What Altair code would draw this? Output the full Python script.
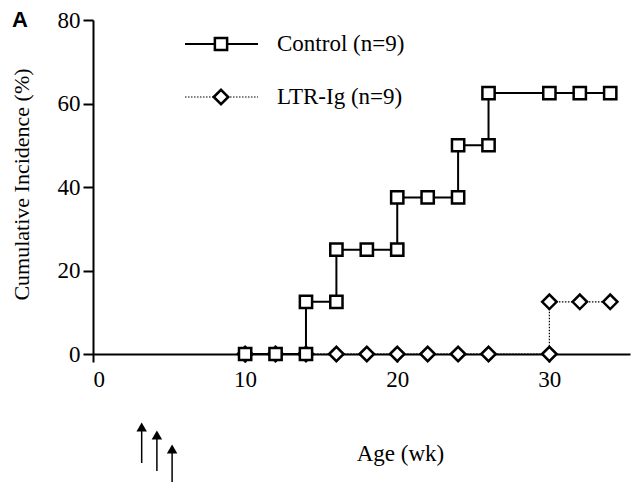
import altair as alt
import pandas as pd

# ---- data ----
control_x = [10, 12, 14, 14, 16, 16, 18, 20, 20, 22, 24, 24, 26, 26, 30, 32, 34]
control_y = [0, 0, 0, 12.5, 12.5, 25, 25, 25, 37.5, 37.5, 37.5, 50, 50, 62.5, 62.5, 62.5, 62.5]
ltr_x = [10, 12, 14, 16, 18, 20, 22, 24, 26, 30, 30, 32, 34]
ltr_y = [0, 0, 0, 0, 0, 0, 0, 0, 0, 0, 12.5, 12.5, 12.5]
series_names = ["Control (n=9)", "LTR-Ig (n=9)"]
arrow_weeks = [3.2, 4.2, 5.2]
x_ticks = [0, 10, 20, 30]
y_ticks = [0, 20, 40, 60, 80]

FONT = "Liberation Serif, Times New Roman, serif"

ctrl = pd.DataFrame({"x": control_x, "y": control_y, "i": range(len(control_x))})
ltr = pd.DataFrame({"x": ltr_x, "y": ltr_y, "i": range(len(ltr_x))})

xs = alt.Scale(domain=[0, 35.3], nice=False)
ys = alt.Scale(domain=[0, 80], nice=False)

xax = alt.Axis(values=x_ticks, title="Age (wk)", grid=False, tickSize=8, labelPadding=6,
               domainColor="black", tickColor="black", domainWidth=2, tickWidth=2,
               labelFont=FONT, labelFontSize=23, labelColor="black", labelFontWeight="normal",
               titleFont=FONT, titleFontSize=23, titleFontWeight="normal", titleColor="black",
               titleX=307, titleY=88)
yax = alt.Axis(values=y_ticks, title="Cumulative Incidence (%)", grid=False, tickSize=10, labelPadding=3,
               domainColor="black", tickColor="black", domainWidth=2, tickWidth=2,
               labelFont=FONT, labelFontSize=23, labelColor="black", labelFontWeight="normal",
               titleFont=FONT, titleFontSize=22, titleFontWeight="normal", titleColor="black",
               titleBaseline="middle", titleX=-72, titleY=164)

X = alt.X("x:Q", scale=xs, axis=xax)
Y = alt.Y("y:Q", scale=ys, axis=yax)

ltr_line = alt.Chart(ltr).mark_line(color="black", strokeWidth=1.2, strokeDash=[1.5, 1.5]).encode(
    x=X, y=Y, order="i:Q")
ctrl_line = alt.Chart(ctrl).mark_line(color="black", strokeWidth=2).encode(x=X, y=Y, order="i:Q")
ltr_pts = alt.Chart(ltr).mark_point(shape="diamond", size=210, filled=True, fill="white",
                                    stroke="black", strokeWidth=2.5, opacity=1).encode(x=X, y=Y)
ctrl_pts = alt.Chart(ctrl).mark_point(shape="square", size=150, filled=True, fill="white",
                                      stroke="black", strokeWidth=2.5, opacity=1).encode(x=X, y=Y)

# legend (drawn manually inside the plot)
leg_rows = [24, 77]
leg_layers = []
for k, name in enumerate(series_names):
    d = pd.DataFrame({"name": [name]})
    if k == 0:
        ln = alt.Chart(d).mark_rule(color="black", strokeWidth=2)
        pt = alt.Chart(d).mark_point(shape="square", size=150, filled=True, fill="white",
                                     stroke="black", strokeWidth=2.5, opacity=1)
    else:
        ln = alt.Chart(d).mark_rule(color="black", strokeWidth=1.2, strokeDash=[1.5, 1.5])
        pt = alt.Chart(d).mark_point(shape="diamond", size=210, filled=True, fill="white",
                                     stroke="black", strokeWidth=2.5, opacity=1)
    leg_layers.append(ln.encode(x=alt.value(92), x2=alt.value(165), y=alt.value(leg_rows[k])))
    leg_layers.append(pt.encode(x=alt.value(128), y=alt.value(leg_rows[k])))
    leg_layers.append(alt.Chart(d).mark_text(align="left", baseline="middle", font=FONT, fontSize=23,
                                             color="black").encode(
        x=alt.value(184), y=alt.value(leg_rows[k]), text="name:N"))

# arrows below the axis
arrow_tops = [402, 410, 424]
arrow_bots = [443, 451, 464]
arrow_layers = []
for k, w in enumerate(arrow_weeks):
    d = pd.DataFrame({"x": [w]})
    arrow_layers.append(alt.Chart(d).mark_rule(color="black", strokeWidth=1.5, clip=False).encode(
        x=alt.X("x:Q", scale=xs), y=alt.value(arrow_tops[k] + 5), y2=alt.value(arrow_bots[k])))
    arrow_layers.append(alt.Chart(d).mark_point(shape="triangle-up", size=110, filled=True, color="black",
                                                opacity=1, clip=False).encode(
        x=alt.X("x:Q", scale=xs), y=alt.value(arrow_tops[k] + 5)))

panel = pd.DataFrame({"label": ["A"]})
panel_txt = alt.Chart(panel).mark_text(align="left", baseline="middle", font="Liberation Sans",
                                       fontSize=22, fontWeight="bold", color="black").encode(
    x=alt.value(-81), y=alt.value(0), text="label:N")

chart = alt.layer(ltr_line, ctrl_line, ltr_pts, ctrl_pts, *leg_layers, *arrow_layers, panel_txt).properties(
    width=537, height=334,
    autosize=alt.AutoSizeParams(type="none"),
    padding={"left": 85, "top": 12, "right": 2, "bottom": 128},
).configure(background="white").configure_view(stroke=None).configure_axis(
    labelFont=FONT, titleFont=FONT)

chart.save("out.html", embed_options={"renderer": "svg", "actions": False})
